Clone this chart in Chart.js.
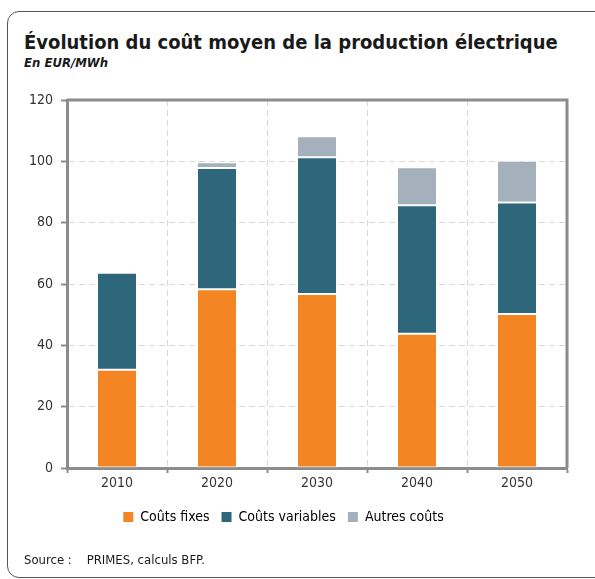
<!DOCTYPE html>
<html lang="fr">
<head>
  <meta charset="UTF-8">
  <title>Évolution du coût moyen de la production électrique</title>
  <script src="https://cdn.jsdelivr.net/npm/chart.js"></script>
  <style>
    body {
      margin: 0;
      background: #fff;
      font-family: 'DejaVu Sans Condensed', 'DejaVu Sans', sans-serif;
      color: #1a1a1a;
      overflow: hidden;
    }
    .frame {
      position: absolute;
      left: 7px;
      top: 11px;
      width: 600px;
      height: 565px;
      border: 1px solid #555;
      border-radius: 12px;
    }
    h1 {
      position: absolute;
      left: 24px;
      top: 30px;
      margin: 0;
      font-size: 20px;
      font-weight: bold;
      white-space: nowrap;
    }
    .sub {
      position: absolute;
      left: 24px;
      top: 55px;
      font-size: 13px;
      font-weight: bold;
      font-style: italic;
    }
    .source {
      position: absolute;
      left: 24px;
      top: 552px;
      font-size: 13px;
    }
    .chart {
      position: absolute;
      left: 0;
      top: 0;
      width: 595px;
      height: 579px;
    }
  </style>
</head>
<body>
  <div class="frame"></div>
  <h1>Évolution du coût moyen de la production électrique</h1>
  <div class="sub">En EUR/MWh</div>
  <div class="chart"><canvas id="c"></canvas></div>
  <div class="source">Source :&nbsp;&nbsp;&nbsp; PRIMES, calculs BFP.</div>
  <script>
    const years = ['2010', '2020', '2030', '2040', '2050'];
    const fixedCosts = [32, 58.3, 56.7, 43.8, 50.2];
    const variableCosts = [31.7, 39.5, 44.6, 41.9, 36.4];
    const otherCosts = [0, 1.9, 6.9, 12.4, 13.6];
    const yTicks = [0, 20, 40, 60, 80, 100, 120];

    const axisGray = '#8c8c8c';
    const gridGray = '#d9d9d9';
    const tickFont = { size: 14, family: "'DejaVu Sans Condensed', sans-serif" };

    // plot frame (top + right edges)
    const frameBox = {
      id: 'frameBox',
      afterDraw(chart) {
        const { ctx, chartArea: a } = chart;
        ctx.save();
        ctx.strokeStyle = axisGray;
        ctx.lineWidth = 3;
        ctx.beginPath();
        ctx.moveTo(a.left, a.top);
        ctx.lineTo(a.right, a.top);
        ctx.lineTo(a.right, a.bottom);
        ctx.stroke();
        ctx.restore();
      }
    };

    const ds = (label, data, color) => ({
      label, data,
      backgroundColor: color,
      borderColor: 'rgba(255,255,255,0.7)',
      borderWidth: 1,
      borderSkipped: false,
      categoryPercentage: 1,
      barPercentage: 0.4
    });

    new Chart(document.getElementById('c'), {
      type: 'bar',
      data: {
        labels: years,
        datasets: [
          ds('Coûts fixes', fixedCosts, '#f38522'),
          ds('Coûts variables', variableCosts, '#2e677c'),
          ds('Autres coûts', otherCosts, '#a5b0bd')
        ]
      },
      options: {
        responsive: true,
        maintainAspectRatio: false,
        animation: false,
        layout: { padding: { top: 100, right: 28, left: 0, bottom: 45 } },
        scales: {
          x: {
            stacked: true,
            afterFit: s => { s.height = 30; },
            border: { color: axisGray, width: 3, dash: [6, 4] },
            grid: {
              offset: true,
              color: gridGray,
              tickColor: axisGray,
              tickLength: 5,
              tickBorderDash: [],
              tickWidth: 2
            },
            ticks: { color: '#333', font: tickFont, padding: 2 }
          },
          y: {
            stacked: true,
            min: 0,
            max: 120,
            afterFit: s => { s.width = 67; },
            afterBuildTicks: s => { s.ticks = yTicks.map(v => ({ value: v })); },
            border: { color: axisGray, width: 3, dash: [6, 4] },
            grid: {
              color: gridGray,
              tickColor: axisGray,
              tickLength: 6,
              tickBorderDash: [],
              tickWidth: 2
            },
            ticks: { color: '#333', font: tickFont, padding: 8 }
          }
        },
        plugins: {
          tooltip: { enabled: false },
          legend: {
            position: 'bottom',
            labels: {
              color: '#333',
              boxWidth: 10,
              boxHeight: 10,
              padding: 12,
              font: tickFont,
              generateLabels: chart => chart.data.datasets.map((d, i) => ({
                text: d.label,
                fillStyle: d.backgroundColor,
                strokeStyle: d.backgroundColor,
                lineWidth: 0,
                datasetIndex: i
              }))
            }
          }
        }
      },
      plugins: [frameBox]
    });
  </script>
</body>
</html>
